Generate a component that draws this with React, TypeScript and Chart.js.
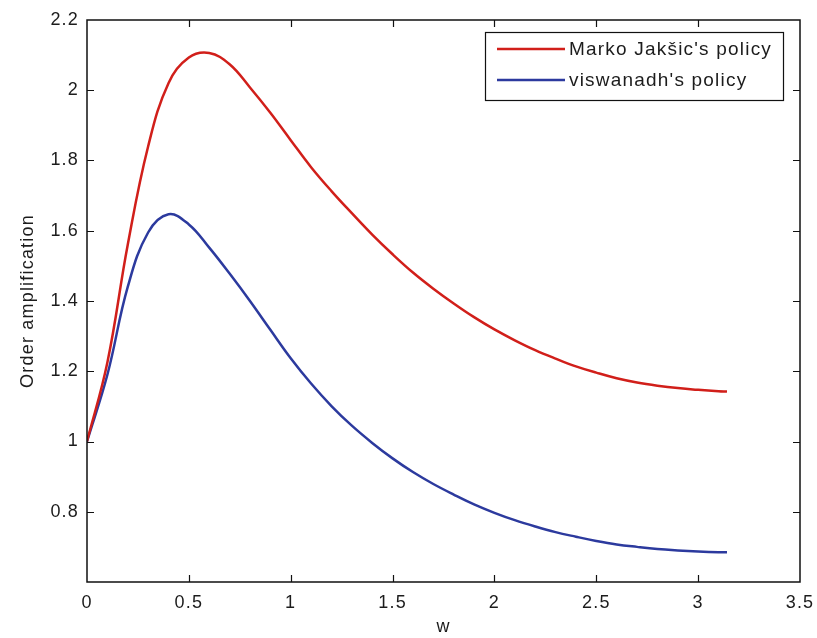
import React, { useEffect, useRef } from "react";
import { Chart, registerables } from "chart.js";

Chart.register(...registerables);

const wValues = [0, 0.1, 0.2, 0.3, 0.4, 0.5, 0.6, 0.7, 0.8, 0.9, 1.0, 1.1, 1.2, 1.3, 1.4, 1.5, 1.6, 1.7, 1.8, 1.9, 2.0, 2.1, 2.2, 2.3, 2.4, 2.5, 2.6, 2.7, 2.8, 2.9, 3.0, 3.1, 3.1416];
const jaksicValues = [1.0, 1.225, 1.56, 1.84, 2.02, 2.093, 2.106, 2.074, 2.008, 1.936, 1.858, 1.781, 1.713, 1.65, 1.589, 1.533, 1.481, 1.435, 1.393, 1.354, 1.319, 1.288, 1.26, 1.236, 1.214, 1.196, 1.18, 1.168, 1.159, 1.152, 1.147, 1.143, 1.142];
const viswanadhValues = [1.0, 1.19, 1.44, 1.595, 1.647, 1.618, 1.552, 1.478, 1.4, 1.318, 1.237, 1.165, 1.101, 1.045, 0.996, 0.952, 0.913, 0.879, 0.849, 0.821, 0.797, 0.776, 0.758, 0.742, 0.729, 0.717, 0.707, 0.7, 0.694, 0.69, 0.687, 0.685, 0.685];

const seriesLabels = ["Marko Jakšic's policy", "viswanadh's policy"];
const seriesColors = ["#d11f1a", "#2c3a9e"];

const xTicks = [0, 0.5, 1, 1.5, 2, 2.5, 3, 3.5];
const yTicks = [0.6, 0.8, 1.0, 1.2, 1.4, 1.6, 1.8, 2.0, 2.2];
const xTitle = "w";
const yTitle = "Order amplification";

const FONT = "'Liberation Sans', Arial, sans-serif";
const TEXT_COLOR = "#1c1c1c";
const SPACING = "1.2px";

const spacingPlugin = {
  id: "spacing",
  beforeUpdate(chart: any) { (chart.ctx as any).letterSpacing = SPACING; },
  beforeLayout(chart: any) { (chart.ctx as any).letterSpacing = SPACING; },
  beforeDraw(chart: any) { (chart.ctx as any).letterSpacing = SPACING; },
};

const framePlugin = {
  id: "frame",
  afterDraw(chart: any) {
    const { ctx, chartArea } = chart;
    const { left, right, top, bottom } = chartArea;
    const xs = chart.scales.x;
    const ys = chart.scales.y;
    ctx.save();
    ctx.strokeStyle = "#111";
    ctx.lineWidth = 1.5;
    ctx.beginPath();
    ctx.rect(left, top, right - left, bottom - top);
    ctx.stroke();
    const tl = 7;
    ctx.lineWidth = 1.2;
    ctx.beginPath();
    xTicks.forEach((t) => {
      const px = Math.round(xs.getPixelForValue(t)) + 0.5;
      if (px <= left + 1 || px >= right - 1) return;
      ctx.moveTo(px, bottom);
      ctx.lineTo(px, bottom - tl);
      ctx.moveTo(px, top);
      ctx.lineTo(px, top + tl);
    });
    yTicks.forEach((t) => {
      const py = Math.round(ys.getPixelForValue(t)) + 0.5;
      if (py <= top + 1 || py >= bottom - 1) return;
      ctx.moveTo(left, py);
      ctx.lineTo(left + tl, py);
      ctx.moveTo(right, py);
      ctx.lineTo(right - tl, py);
    });
    ctx.stroke();

    // legend box
    const bw = 298;
    const bh = 68;
    const bx = right - 17 - bw;
    const by = top + 12;
    ctx.fillStyle = "#fff";
    ctx.fillRect(bx, by, bw, bh);
    ctx.strokeStyle = "#111";
    ctx.lineWidth = 1.2;
    ctx.strokeRect(bx + 0.5, by + 0.5, bw, bh);
    (ctx as any).letterSpacing = SPACING;
    ctx.font = `19px ${FONT}`;
    ctx.textBaseline = "middle";
    ctx.textAlign = "left";
    chart.data.datasets.forEach((ds: any, i: number) => {
      const ly = by + 17 + i * 31;
      ctx.strokeStyle = ds.borderColor;
      ctx.lineWidth = 2.5;
      ctx.beginPath();
      ctx.moveTo(bx + 12, ly);
      ctx.lineTo(bx + 80, ly);
      ctx.stroke();
      ctx.fillStyle = TEXT_COLOR;
      ctx.fillText(ds.label, bx + 84, ly + 1);
    });
    ctx.restore();
  },
};

export default function App() {
  const canvasRef = useRef<HTMLCanvasElement | null>(null);

  useEffect(() => {
    if (!canvasRef.current) return;
    const chart = new Chart(canvasRef.current, {
      type: "line",
      data: {
        datasets: [
          {
            label: seriesLabels[0],
            data: wValues.map((w, i) => ({ x: w, y: jaksicValues[i] })),
            borderColor: seriesColors[0],
            backgroundColor: seriesColors[0],
            borderWidth: 2.5,
            pointRadius: 0,
            tension: 0.4,
            fill: false,
          },
          {
            label: seriesLabels[1],
            data: wValues.map((w, i) => ({ x: w, y: viswanadhValues[i] })),
            borderColor: seriesColors[1],
            backgroundColor: seriesColors[1],
            borderWidth: 2.5,
            pointRadius: 0,
            tension: 0.4,
            fill: false,
          },
        ],
      },
      options: {
        responsive: false,
        animation: false,
        devicePixelRatio: 1,
        layout: { padding: { left: 0, top: 20, right: 17, bottom: 0 } },
        plugins: {
          legend: { display: false },
          tooltip: { enabled: false },
        },
        scales: {
          x: {
            type: "linear",
            min: 0,
            max: 3.5,
            grid: { display: false, drawTicks: false },
            border: { display: false },
            afterBuildTicks: (scale: any) => {
              scale.ticks = xTicks.map((v) => ({ value: v }));
            },
            afterFit: (scale: any) => {
              scale.height = 56;
              scale.paddingLeft = 0;
              scale.paddingRight = 0;
            },
            ticks: {
              padding: 10,
              color: TEXT_COLOR,
              font: { family: FONT, size: 18 },
              maxRotation: 0,
              callback: (v: any) => String(Number(Number(v).toFixed(1))),
            },
            title: {
              display: true,
              text: xTitle,
              color: TEXT_COLOR,
              font: { family: FONT, size: 18 },
              padding: { top: 0, bottom: 0 },
            },
          },
          y: {
            type: "linear",
            min: 0.6,
            max: 2.2,
            grid: { display: false, drawTicks: false },
            border: { display: false },
            afterBuildTicks: (scale: any) => {
              scale.ticks = yTicks.map((v) => ({ value: v }));
            },
            afterFit: (scale: any) => {
              scale.width = 87;
              scale.paddingTop = 0;
              scale.paddingBottom = 0;
            },
            ticks: {
              padding: 8,
              color: TEXT_COLOR,
              font: { family: FONT, size: 18 },
              callback: (v: any) => {
                const n = Number(Number(v).toFixed(1));
                if (Math.abs(n - 0.6) < 1e-6) return "";
                return String(n);
              },
            },
            title: {
              display: true,
              text: yTitle,
              color: TEXT_COLOR,
              font: { family: FONT, size: 18 },
              padding: { top: 17, bottom: 0 },
            },
          },
        },
      },
      plugins: [spacingPlugin, framePlugin],
    } as any);
    return () => chart.destroy();
  }, []);

  return (
    <div style={{ position: "absolute", left: 0, top: 0, width: 817, height: 638, background: "#fff" }}>
      <canvas ref={canvasRef} width={817} height={638} style={{ width: 817, height: 638, display: "block" }} />
    </div>
  );
}
